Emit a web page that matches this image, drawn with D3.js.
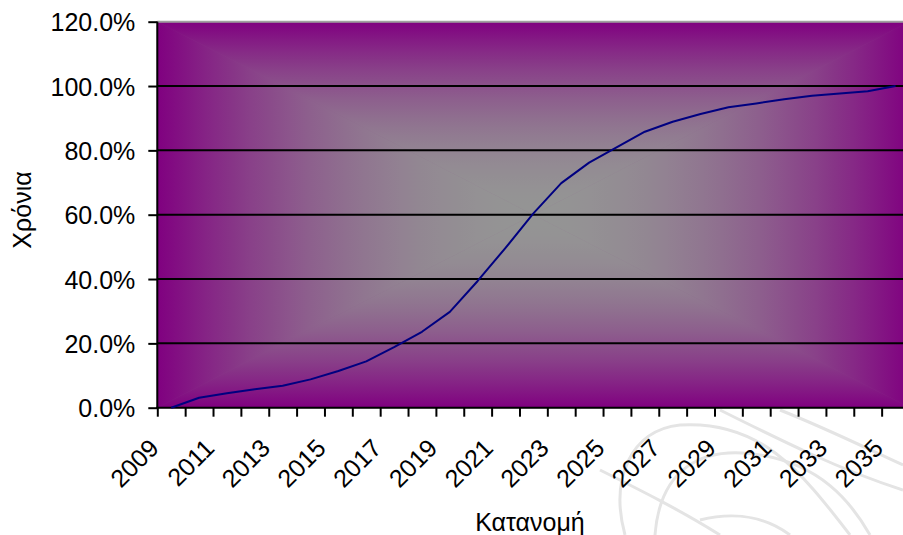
<!DOCTYPE html>
<html><head><meta charset="utf-8">
<script src="https://cdn.jsdelivr.net/npm/d3@7"></script>
<style>
html,body{margin:0;padding:0;background:#fff;}
svg{display:block;font-family:"Liberation Sans",Arial,sans-serif;}
</style></head>
<body>
<svg id="chart" width="903" height="535"></svg>
<script>
// ---- data ----
const years = [2009,2010,2011,2012,2013,2014,2015,2016,2017,2018,2019,2020,2021,2022,2023,2024,2025,2026,2027,2028,2029,2030,2031,2032,2033,2034,2035];
const values = [0, 3.1, 4.5, 5.7, 6.8, 8.8, 11.4, 14.4, 18.8, 23.6, 29.8, 39.4, 49.7, 60.4, 69.8, 76.2, 81.0, 85.8, 88.9, 91.3, 93.4, 94.6, 95.9, 97.0, 97.7, 98.4, 100.0];
const yTicks = [0, 20, 40, 60, 80, 100, 120];
const xLabels = [2009,2011,2013,2015,2017,2019,2021,2023,2025,2027,2029,2031,2033,2035];
const yTitle = "Χρόνια";
const xTitle = "Κατανομή";

// ---- layout ----
const L = 157.3, R = 909.5, T = 21.7, B = 407.7;
const svg = d3.select("#chart");
const x = d3.scaleBand().domain(years).range([L, R]).padding(0);
const xEdge = d3.scaleLinear().domain([0, years.length]).range([L, R]);
const y = d3.scaleLinear().domain([0, 120]).range([B, T]);
const cx = (L + R) / 2, cy = (T + B) / 2;

// ---- background watermark (faint swirls) ----
const wm = svg.append("g").attr("fill","none").attr("stroke","#e4e4e4").attr("stroke-width",3);
wm.append("path").attr("d","M625,535 C610,480 630,430 680,425 C760,420 800,470 850,535");
wm.append("path").attr("d","M655,535 C660,470 700,445 760,455 C820,465 850,500 870,535");
wm.append("path").attr("d","M720,410 C780,440 840,470 903,490");
wm.append("path").attr("d","M780,410 C830,430 870,450 903,465");
wm.append("path").attr("d","M600,470 C640,490 680,510 720,535");
wm.append("path").attr("d","M700,520 C740,510 770,520 790,535");

// ---- rectangular "from center" gradient ----
const defs = svg.append("defs");
const c0 = d3.rgb(128,0,128), c1 = d3.rgb(148,148,148);
function mkGrad(id, x1, y1, x2, y2){
  const g = defs.append("linearGradient").attr("id", id).attr("gradientUnits","userSpaceOnUse")
    .attr("x1",x1).attr("y1",y1).attr("x2",x2).attr("y2",y2);
  d3.range(0, 1.0001, 0.05).forEach(t => {
    const s = 1 - Math.pow(1 - t, 2);
    g.append("stop").attr("offset", t).attr("stop-color", d3.interpolateRgb(c0, c1)(s));
  });
}
mkGrad("gTop", 0, T, 0, cy);
mkGrad("gBot", 0, B, 0, cy);
mkGrad("gLeft", L, 0, cx, 0);
mkGrad("gRight", R, 0, cx, 0);
const bg = svg.append("g");
bg.append("rect").attr("x",L).attr("y",T).attr("width",R-L).attr("height",B-T).attr("fill","#8a4a8a");
bg.append("path").attr("d",`M${L},${T}L${R},${T}L${cx},${cy}Z`).attr("fill","url(#gTop)").attr("stroke","url(#gTop)").attr("stroke-width",0.6);
bg.append("path").attr("d",`M${L},${B}L${R},${B}L${cx},${cy}Z`).attr("fill","url(#gBot)").attr("stroke","url(#gBot)").attr("stroke-width",0.6);
bg.append("path").attr("d",`M${L},${T}L${L},${B}L${cx},${cy}Z`).attr("fill","url(#gLeft)").attr("stroke","url(#gLeft)").attr("stroke-width",0.6);
bg.append("path").attr("d",`M${R},${T}L${R},${B}L${cx},${cy}Z`).attr("fill","url(#gRight)").attr("stroke","url(#gRight)").attr("stroke-width",0.6);

// top border of plot area
svg.append("line").attr("x1",L).attr("x2",R).attr("y1",T).attr("y2",T).attr("stroke","#a0a0a0").attr("stroke-width",2);

// ---- gridlines ----
svg.append("g").selectAll("line").data(yTicks.filter(v => v > 0 && v < 120)).join("line")
  .attr("x1", L).attr("x2", R).attr("y1", d => y(d)).attr("y2", d => y(d))
  .attr("stroke", "#000").attr("stroke-width", 2);

// ---- y axis ----
const yAxis = svg.append("g").attr("transform", `translate(${L},0)`)
  .call(d3.axisLeft(y).tickValues(yTicks).tickSize(9).tickPadding(13).tickFormat(d => d.toFixed(1) + "%"));
yAxis.select(".domain").remove();
yAxis.selectAll(".tick line").attr("stroke","#000").attr("stroke-width",2);
yAxis.selectAll(".tick text").attr("font-size", 25).attr("fill","#000")
  .attr("font-family","'Liberation Sans', Arial, sans-serif").attr("dy","0.36em");

// ---- x axis tick marks (between categories) ----
const xAxis = svg.append("g").attr("transform", `translate(0,${B})`)
  .call(d3.axisBottom(xEdge).tickValues(d3.range(0, years.length)).tickSize(9).tickFormat(""));
xAxis.select(".domain").remove();
xAxis.selectAll(".tick line").attr("stroke","#000").attr("stroke-width",2);

// x labels
svg.append("g").selectAll("text").data(xLabels).join("text")
  .attr("transform", d => `translate(${x(d) + x.bandwidth()/2 - 11},${B + 42}) rotate(-45)`)
  .attr("text-anchor","end").attr("font-size",25).attr("fill","#000")
  .text(d => d);

// axis lines
svg.append("line").attr("x1",L).attr("x2",L).attr("y1",T).attr("y2",B+1).attr("stroke","#000").attr("stroke-width",2);
svg.append("line").attr("x1",L-1).attr("x2",R).attr("y1",B).attr("y2",B).attr("stroke","#000").attr("stroke-width",2);

// ---- line ----
const line = d3.line().x((d,i) => x(years[i]) + x.bandwidth()/2).y(d => y(d));
svg.append("path").datum(values).attr("d", line).attr("fill","none")
  .attr("stroke","#000080").attr("stroke-width",2).attr("stroke-linejoin","round");

// ---- titles ----
svg.append("text").attr("transform", `translate(31,${210}) rotate(-90)`).attr("text-anchor","middle")
  .attr("font-size",25).attr("fill","#000").text(yTitle);
svg.append("text").attr("x", 530).attr("y", 531).attr("text-anchor","middle")
  .attr("font-size",25).attr("fill","#000").text(xTitle);
</script>
</body></html>
